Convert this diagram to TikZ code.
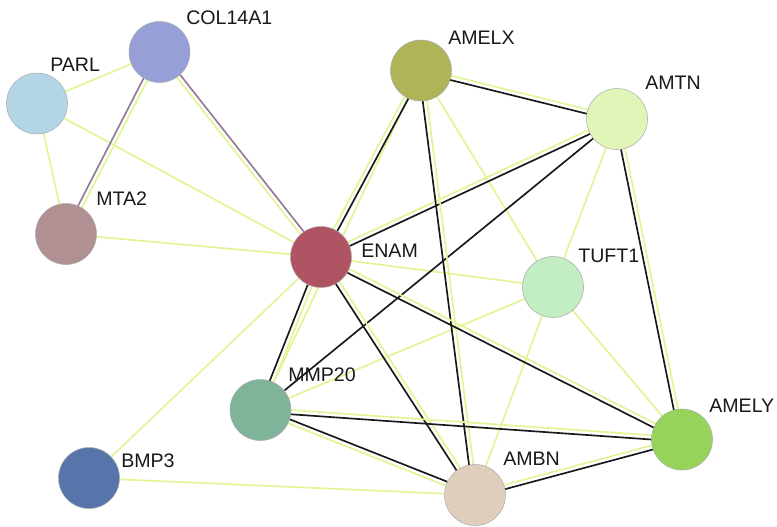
\documentclass[tikz,border=0pt]{standalone}
\usepackage{fontspec}
\setmainfont{Liberation Sans}
\usepackage{tikz}
\usetikzlibrary{calc,backgrounds}
\definecolor{txtline}{HTML}{E2F594}
\definecolor{exptline}{HTML}{957A9A}
\definecolor{ncol}{HTML}{96A0D6}
\definecolor{nparl}{HTML}{B2D6E6}
\definecolor{nmta}{HTML}{B09092}
\definecolor{nenam}{HTML}{B05464}
\definecolor{namelx}{HTML}{B0B459}
\definecolor{namtn}{HTML}{E1F5B9}
\definecolor{ntuft}{HTML}{C3EDC3}
\definecolor{nmmp}{HTML}{7FB39A}
\definecolor{nbmp}{HTML}{5775AB}
\definecolor{nambn}{HTML}{E0CEBC}
\definecolor{namely}{HTML}{95D35A}
% two parallel lines between two genes: #3 on the left of a->b, #4 on the right
\newcommand{\linkgap}{1.6pt}
\newcommand{\evlink}[4]{%
  \draw[#3] ($(#1)!\linkgap!90:(#2)$) -- ($(#2)!\linkgap!-90:(#1)$);
  \draw[#4] ($(#1)!\linkgap!-90:(#2)$) -- ($(#2)!\linkgap!90:(#1)$);}

\begin{document}
\begin{tikzpicture}[
  x=0.75pt, y=-0.75pt,
  gene/.style={circle, draw=gray!65, line width=0.4pt, minimum size=45.75pt, inner sep=0pt},
  lbl/.style={anchor=base west, inner sep=0pt, text=black!90, font=\fontsize{14.7}{17}\selectfont},
  txtm/.style={line width=1.25pt, txtline},
  coexp/.style={line width=1.25pt, black!90},
  expt/.style={line width=1.25pt, exptline}
]
\useasboundingbox (0,0) rectangle (777,526);
% genes
\node[gene, fill=ncol] (col) at (159.5,52) {};
\node[gene, fill=nparl] (parl) at (37,103.5) {};
\node[gene, fill=nmta] (mta) at (66,234) {};
\node[gene, fill=nenam] (enam) at (321,257) {};
\node[gene, fill=namelx] (amelx) at (421,70.5) {};
\node[gene, fill=namtn] (amtn) at (617,119) {};
\node[gene, fill=ntuft] (tuft) at (553,287) {};
\node[gene, fill=nmmp] (mmp) at (260.5,410) {};
\node[gene, fill=nbmp] (bmp) at (89,478) {};
\node[gene, fill=nambn] (ambn) at (475,495) {};
\node[gene, fill=namely] (amely) at (682,439.5) {};
% labels
\node[lbl] (lcol) at ($(col)+(26.5,-28)$) {COL14A1};
\node[lbl] (lparl) at ($(parl)+(13,-32.5)$) {PARL};
\node[lbl] (lmta) at ($(mta)+(30,-29)$) {MTA2};
\node[lbl] (lenam) at ($(enam)+(40,0)$) {ENAM};
\node[lbl] (lamelx) at ($(amelx)+(27,-26.5)$) {AMELX};
\node[lbl] (lamtn) at ($(amtn)+(28,-30)$) {AMTN};
\node[lbl] (ltuft) at ($(tuft)+(25,-25)$) {TUFT1};
\node[lbl] (lmmp) at ($(mmp)+(27.5,-29)$) {MMP20};
\node[lbl] (lbmp) at ($(bmp)+(32,-11)$) {BMP3};
\node[lbl] (lambn) at ($(ambn)+(28,-30)$) {AMBN};
\node[lbl] (lamely) at ($(amely)+(27,-27.5)$) {AMELY};
% links
\begin{pgfonlayer}{background}
\fill[white] (0,0) rectangle (777,526);
\draw[txtm] (parl) -- (col);
\draw[txtm] (parl) -- (mta);
\draw[txtm] (parl) -- (enam);
\draw[txtm] (mta) -- (enam);
\draw[txtm] (bmp) -- (enam);
\draw[txtm] (bmp) -- (ambn);
\draw[txtm] (enam) -- (tuft);
\draw[txtm] (amelx) -- (tuft);
\draw[txtm] (amelx) -- (mmp);
\draw[txtm] (amtn) -- (tuft);
\draw[txtm] (mmp) -- (tuft);
\draw[txtm] (tuft) -- (ambn);
\draw[txtm] (tuft) -- (amely);
\draw[coexp] (amtn) -- (mmp);
\evlink{col}{mta}{txtm}{expt}
\evlink{col}{enam}{expt}{txtm}
\evlink{enam}{amelx}{txtm}{coexp}
\evlink{amelx}{amtn}{txtm}{coexp}
\evlink{enam}{amtn}{txtm}{coexp}
\evlink{amtn}{amely}{txtm}{coexp}
\evlink{amelx}{ambn}{txtm}{coexp}
\evlink{enam}{amely}{txtm}{coexp}
\evlink{enam}{ambn}{txtm}{coexp}
\evlink{enam}{mmp}{txtm}{coexp}
\evlink{mmp}{amely}{txtm}{coexp}
\evlink{mmp}{ambn}{coexp}{txtm}
\evlink{ambn}{amely}{txtm}{coexp}
\end{pgfonlayer}
\end{tikzpicture}
\end{document}
